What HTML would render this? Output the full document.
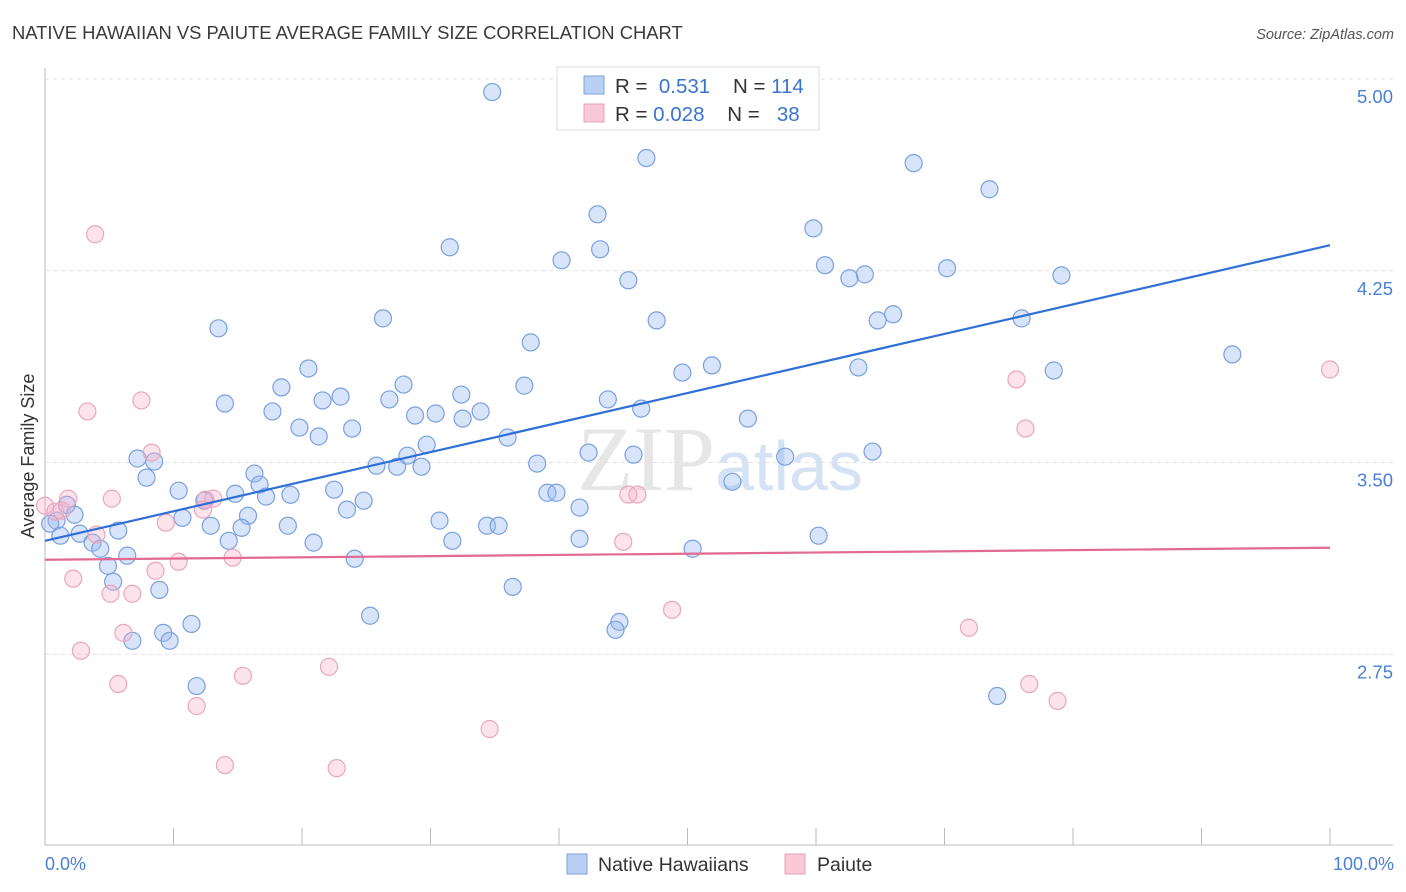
<!DOCTYPE html>
<html><head><meta charset="utf-8"><style>
body{margin:0;background:#fff;font-family:"Liberation Sans",sans-serif;}
svg{display:block}
</style></head><body>
<svg id="chart" width="1406" height="892" xmlns="http://www.w3.org/2000/svg">
<text x="12" y="39" font-size="18.4" fill="#3a3a3a">NATIVE HAWAIIAN VS PAIUTE AVERAGE FAMILY SIZE CORRELATION CHART</text>
<text x="1394" y="39" font-size="14.5" fill="#555" text-anchor="end" font-style="italic">Source: ZipAtlas.com</text>
<text x="720" y="490" font-size="92" fill="#e6e6e6" text-anchor="middle" font-family="Liberation Serif,serif">ZIP<tspan fill="#d4e2f4" font-family="Liberation Sans,sans-serif" font-size="70">atlas</tspan></text>
<g id="grid"></g>
<g id="axes"></g>
<g id="pts"></g>
<g id="trend"></g>
<text transform="translate(34,456) rotate(-90)" font-size="18" fill="#333" text-anchor="middle">Average Family Size</text>
<text x="45" y="870" font-size="18" fill="#4a7fd6">0.0%</text>
<text x="1394" y="870" font-size="18" fill="#4a7fd6" text-anchor="end">100.0%</text>
<g>
<rect x="557" y="67" width="262" height="63" fill="#fff" stroke="#ddd"/>
<rect x="584" y="76" width="20" height="18" fill="#b9d0f4" stroke="#7aa0e0"/>
<rect x="584" y="104" width="20" height="18" fill="#f9c8d6" stroke="#e8a0b8"/>
<text x="615" y="93" font-size="20.5" fill="#333">R = <tspan fill="#3a73d0">&#160;0.531</tspan>&#160;&#160;&#160;&#160;N = <tspan fill="#3a73d0">114</tspan></text>
<text x="615" y="121" font-size="20.5" fill="#333">R = <tspan fill="#3a73d0">0.028</tspan>&#160;&#160;&#160;&#160;N = <tspan fill="#3a73d0">&#160;&#160;38</tspan></text>
</g>
<g>
<rect x="567" y="854" width="20" height="20" fill="#b9d0f4" stroke="#7aa0e0"/>
<text x="598" y="871" font-size="19.5" fill="#333">Native Hawaiians</text>
<rect x="785" y="854" width="20" height="20" fill="#f9c8d6" stroke="#e8a0b8"/>
<text x="817" y="871" font-size="19.5" fill="#333">Paiute</text>
</g>
</svg>
<script>
const yTicks=[2.75,3.50,4.25,5.00];
const yTickLabels=["2.75","3.50","4.25","5.00"];
const blueX=[34.8,46.8,67.6,73.5,43.0,59.8,31.5,43.2,40.2,60.7,63.8,62.6,70.2,79.1,45.4,13.5,26.3,47.6,64.8,66.0,76.0,37.8,92.4,20.5,49.6,51.9,63.3,78.5,18.4,27.9,37.3,14.0,21.6,23.0,26.8,32.4,43.8,46.4,17.7,28.8,30.4,32.5,33.9,54.7,19.8,21.3,23.9,29.7,36.0,7.2,8.5,7.9,16.3,16.7,25.8,27.4,28.2,29.3,38.3,42.3,45.8,57.6,64.4,53.5,10.4,14.8,17.2,19.1,22.5,24.8,12.4,39.1,39.8,1.7,0.9,0.4,2.3,10.7,12.9,15.8,15.3,18.9,23.5,41.6,30.7,34.4,35.3,5.7,2.7,1.2,3.7,4.3,14.3,20.9,31.7,41.6,60.2,50.4,6.4,24.1,4.9,5.3,8.9,36.4,25.3,11.4,9.2,44.7,44.4,6.8,9.7,11.8,74.1];
const blueY=[4.945,4.687,4.667,4.565,4.467,4.412,4.338,4.330,4.287,4.268,4.232,4.217,4.256,4.228,4.209,4.021,4.060,4.052,4.052,4.076,4.060,3.966,3.919,3.864,3.848,3.876,3.868,3.856,3.790,3.801,3.797,3.727,3.739,3.754,3.743,3.762,3.743,3.707,3.696,3.680,3.688,3.668,3.696,3.668,3.633,3.598,3.629,3.566,3.594,3.512,3.500,3.437,3.453,3.410,3.484,3.480,3.523,3.480,3.492,3.535,3.527,3.519,3.539,3.421,3.386,3.374,3.363,3.370,3.390,3.347,3.347,3.378,3.378,3.331,3.269,3.257,3.292,3.280,3.249,3.288,3.241,3.249,3.312,3.320,3.269,3.249,3.249,3.230,3.218,3.210,3.183,3.159,3.190,3.183,3.190,3.198,3.210,3.159,3.132,3.120,3.092,3.030,2.998,3.010,2.897,2.865,2.830,2.873,2.842,2.799,2.799,2.622,2.583];
const pinkX=[3.9,7.5,3.3,8.3,1.8,5.2,0,0.8,1.3,12.5,13.1,12.3,4.0,9.4,14.6,10.4,8.6,2.2,5.1,6.8,6.1,2.8,5.7,15.4,22.1,11.8,14.0,22.7,34.6,45.4,46.1,45.0,48.8,75.6,76.3,71.9,76.6,78.8,100];
const pinkY=[4.389,3.739,3.696,3.535,3.355,3.355,3.327,3.304,3.308,3.351,3.355,3.312,3.214,3.261,3.124,3.108,3.073,3.042,2.983,2.983,2.830,2.760,2.630,2.662,2.697,2.544,2.313,2.301,2.454,3.371,3.371,3.186,2.920,3.821,3.629,2.850,2.630,2.564,3.860];
const blueTrend=[3.19,4.346];
const pinkTrend=[3.116,3.163];
const NS="http://www.w3.org/2000/svg";
const X0=45,X1=1330,Y5=78,PX=255.7;
const sx=v=>X0+(X1-X0)*v/100;
const sy=v=>Y5+(5-v)*PX;
function mk(t,a,p){const e=document.createElementNS(NS,t);for(const k in a)e.setAttribute(k,a[k]);document.getElementById(p).appendChild(e);return e;}
yTicks.forEach((t,i)=>{
  const l=mk('line',{x1:45,x2:1393,y1:sy(t)+1,y2:sy(t)+1,stroke:'#e2e2e2','stroke-dasharray':'4,4'},'grid');
  
  
  const tx=mk('text',{x:1393,y:sy(t)+25,'font-size':18.5,fill:'#4a7fd6','text-anchor':'end'},'grid');
  
  
  tx.textContent=yTickLabels[i];
});
mk('line',{x1:45,x2:45,y1:68,y2:845,stroke:'#bbb'},'axes');
mk('line',{x1:45,x2:1393,y1:845,y2:845,stroke:'#bbb'},'axes');
for(let i=0;i<=10;i++){
  const t=mk('line',{x1:sx(i*10),x2:sx(i*10),y1:828,y2:845,stroke:'#bbb'},'axes');
  
  
}
blueX.forEach((x,i)=>{
  const c=mk('circle',{cx:sx(x),cy:sy(blueY[i]),r:8.5,fill:'rgba(150,185,240,0.38)',stroke:'#7aa0e0','stroke-width':1.2},'pts');
  
  
});
pinkX.forEach((x,i)=>{
  const c=mk('circle',{cx:sx(x),cy:sy(pinkY[i]),r:8.5,fill:'rgba(245,175,200,0.35)',stroke:'#eaa6bd','stroke-width':1.2},'pts');
  
  
});
const b=mk('line',{x1:sx(0),x2:sx(100),y1:sy(blueTrend[0]),y2:sy(blueTrend[1]),stroke:'#2f6fd6','stroke-width':2.2},'trend');


const p=mk('line',{x1:sx(0),x2:sx(100),y1:sy(pinkTrend[0]),y2:sy(pinkTrend[1]),stroke:'#e2698f','stroke-width':2.2},'trend');


</script>
</body></html>
